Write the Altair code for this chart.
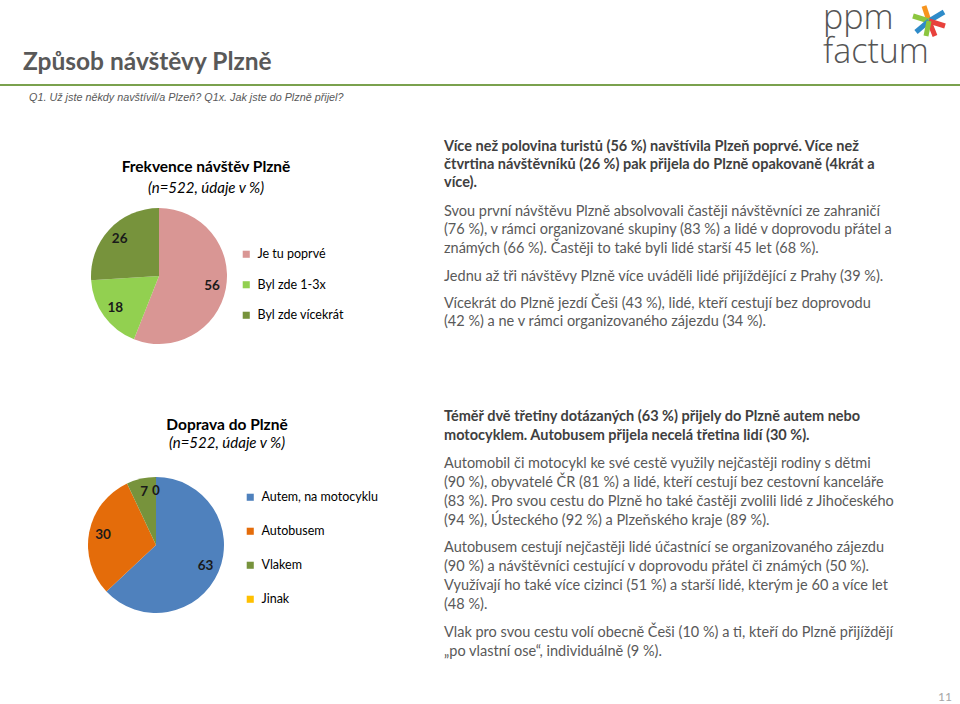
import altair as alt
import pandas as pd

# ---------------- data ----------------
freq_cats = ["Je tu poprvé", "Byl zde 1-3x", "Byl zde vícekrát"]
freq_vals = [56, 18, 26]
freq_colors = ["#D99694", "#92D050", "#77933C"]

trans_cats = ["Autem, na motocyklu", "Autobusem", "Vlakem", "Jinak"]
trans_vals = [63, 30, 7, 0]
trans_colors = ["#4F81BD", "#E46C0A", "#77933C", "#FFC000"]

slide_title = "Způsob návštěvy Plzně"
question = "Q1. Už jste někdy navštívil/a Plzeň? Q1x. Jak jste do Plzně přijel?"
pie1_title = "Frekvence návštěv Plzně"
pie2_title = "Doprava do Plzně"
pie_sub = "(n=522, údaje v %)"
page_no = "11"
logo_lines = ["ppm", "factum"]

block1_bold = [
    "Více než polovina turistů (56 %) navštívila Plzeň poprvé. Více než",
    "čtvrtina návštěvníků (26 %) pak přijela do Plzně opakovaně (4krát a",
    "více).",
]
block1_regular = [
    "Svou první návštěvu Plzně absolvovali častěji návštěvníci ze zahraničí",
    "(76 %), v rámci organizované skupiny (83 %) a lidé v doprovodu přátel a",
    "známých (66 %). Častěji to také byli lidé starší 45 let (68 %).",
    "Jednu až tři návštěvy Plzně více uváděli lidé přijíždějící z Prahy (39 %).",
    "Vícekrát do Plzně jezdí Češi (43 %), lidé, kteří cestují bez doprovodu",
    "(42 %) a ne v rámci organizovaného zájezdu (34 %).",
]
block2_bold = [
    "Téměř dvě třetiny dotázaných (63 %) přijely do Plzně autem nebo",
    "motocyklem. Autobusem přijela necelá třetina lidí (30 %).",
]
block2_regular = [
    "Automobil či motocykl ke své cestě využily nejčastěji rodiny s dětmi",
    "(90 %), obyvatelé ČR (81 %) a lidé, kteří cestují bez cestovní kanceláře",
    "(83 %). Pro svou cestu do Plzně ho také častěji zvolili lidé z Jihočeského",
    "(94 %), Ústeckého (92 %) a Plzeňského kraje (89 %).",
    "Autobusem cestují nejčastěji lidé účastnící se organizovaného zájezdu",
    "(90 %) a návštěvníci cestující v doprovodu přátel či známých (50 %).",
    "Využívají ho také více cizinci (51 %) a starší lidé, kterým je 60 a více let",
    "(48 %).",
    "Vlak pro svou cestu volí obecně Češi (10 %) a ti, kteří do Plzně přijíždějí",
    "„po vlastní ose“, individuálně (9 %).",
]

# ---------------- layout (styles / positions) ----------------
FONT = "Lato"
DARK = "#404040"
GRAY = "#595959"
TEXT_X = 444
BODY = 14.5
b1_bold_y = [147, 165, 183]
b1_reg_y = [212, 230, 248.5, 277, 304, 322]
b2_bold_y = [417, 436]
b2_reg_y = [463.5, 482.5, 501.5, 520.5, 548, 567, 586, 605, 633, 652]

dummy = pd.DataFrame({"d": [0]})


def txt(s, x, y, size, weight="normal", style="normal", color=GRAY,
        font=FONT, align="left", baseline="middle", **kw):
    return alt.Chart(dummy).mark_text(
        align=align, baseline=baseline, font=font, fontSize=size,
        fontWeight=weight, fontStyle=style, color=color, **kw
    ).encode(x=alt.value(x), y=alt.value(y), text=alt.value(s))


def pie(cats, vals, colors, cx, cy, lx, ly, row_pad):
    df = pd.DataFrame({"cat": cats, "val": vals, "idx": list(range(len(cats)))})
    base = alt.Chart(df).encode(
        theta=alt.Theta("val:Q", stack=True),
        order=alt.Order("idx:Q"),
    )
    arc = base.mark_arc(outerRadius=68).encode(
        x=alt.value(cx), y=alt.value(cy),
        color=alt.Color(
            "cat:N",
            scale=alt.Scale(domain=cats, range=colors),
            sort=cats,
            legend=alt.Legend(
                orient="none", legendX=lx, legendY=ly, title=None,
                symbolType="square", symbolSize=50, symbolStrokeWidth=0,
                labelFont=FONT, labelFontSize=12.5, labelColor="#000000",
                labelOffset=5, rowPadding=row_pad, padding=0,
            ),
        ),
    )
    lab = base.mark_text(
        radius=54, font=FONT, fontWeight="bold", fontSize=13.5,
        color="#1a1a1a", baseline="middle", align="center",
    ).encode(x=alt.value(cx), y=alt.value(cy), text="val:Q")
    return alt.layer(arc, lab)


layers = []

# header
layers.append(txt(slide_title, 23, 63, 24.5, weight="bold", color=GRAY))
layers.append(
    alt.Chart(dummy).mark_rule(color="#7AA14E", strokeWidth=2).encode(
        x=alt.value(0), x2=alt.value(960), y=alt.value(85)
    )
)
layers.append(txt(question, 29, 98, 10.8, style="italic", color=GRAY,
                  font="Liberation Sans"))

# logo
layers.append(txt(logo_lines, 823, 29, 34, weight=300, color="#555555",
                  font="Open Sans", baseline="alphabetic", lineHeight=34))
arms = [
    ("#F7941D", -5, -15),
    ("#2E8BC9", 15, -9),
    ("#8CC63F", -16, -5),
    ("#E8413C", 16, 5),
    ("#2E8BC9", -13, 11),
    ("#E8413C", 6, 15),
    ("#8CC63F", -3, 15),
]
for col, dx, dy in arms:
    layers.append(
        alt.Chart(dummy).mark_rule(color=col, strokeWidth=5, strokeCap="butt").encode(
            x=alt.value(929), y=alt.value(21),
            x2=alt.value(929 + dx), y2=alt.value(21 + dy),
        )
    )

# pie 1
layers.append(txt(pie1_title, 206, 167, 15.5, weight="bold", color="#000000",
                  align="center"))
layers.append(txt(pie_sub, 206, 188, 15, style="italic", color="#000000",
                  align="center"))
layers.append(pie(freq_cats, freq_vals, freq_colors, 159, 276, 240, 248, 17.5))

# pie 2
layers.append(txt(pie2_title, 227, 425, 15.5, weight="bold", color="#000000",
                  align="center"))
layers.append(txt(pie_sub, 227, 443, 15, style="italic", color="#000000",
                  align="center"))
layers.append(pie(trans_cats, trans_vals, trans_colors, 156, 545, 244, 491, 21))

# text blocks
for s, y in zip(block1_bold, b1_bold_y):
    layers.append(txt(s, TEXT_X, y, BODY, weight="bold", color=DARK))
for s, y in zip(block1_regular, b1_reg_y):
    layers.append(txt(s, TEXT_X, y, BODY, color=GRAY))
for s, y in zip(block2_bold, b2_bold_y):
    layers.append(txt(s, TEXT_X, y, BODY, weight="bold", color=DARK))
for s, y in zip(block2_regular, b2_reg_y):
    layers.append(txt(s, TEXT_X, y, BODY, color=GRAY))

layers.append(txt(page_no, 945, 697, 12, color="#A6A6A6", align="center"))

chart = alt.layer(*layers).resolve_scale(
    color="independent", theta="independent"
).properties(
    width=960, height=704, padding=0, autosize="none", background="white"
).configure_view(stroke=None)

chart.save("out.html", embed_options={"renderer": "svg", "actions": False})
